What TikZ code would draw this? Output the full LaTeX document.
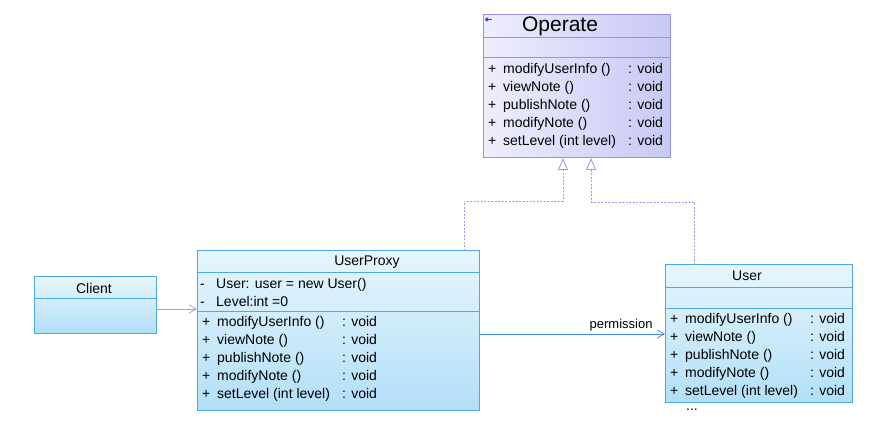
\documentclass[tikz,border=0pt]{standalone}
\usepackage{fontspec}
\setmainfont{Liberation Sans}
\usepackage{array}
\usetikzlibrary{positioning,arrows.meta,calc}

\definecolor{OpLine}{HTML}{9494EC}
\definecolor{OpLeft}{HTML}{EEEEFC}
\definecolor{OpRight}{HTML}{C8C8F6}
\definecolor{OpIcon}{HTML}{3535DC}
\definecolor{BlueLine}{HTML}{4FA8EA}
\definecolor{BlueTop}{HTML}{E6F6FD}
\definecolor{BlueBottom}{HTML}{B2DFF7}
\definecolor{LinkPurple}{HTML}{9C9CF2}
\definecolor{LinkBlue}{HTML}{3D8FE0}

\begin{document}
\begin{tikzpicture}[
    x=1pt, y=-1pt,
    % Class outlines (whole box, compartments drawn as lines)
    classbox/.style={
        rectangle,
        anchor=north west,
        inner sep=0pt,
        outer sep=0pt,
        line width=1pt
    },
    opclass/.style={classbox, draw=OpLine, left color=OpLeft, right color=OpRight},
    blueclass/.style={classbox, draw=BlueLine, top color=BlueTop, bottom color=BlueBottom},
    % Class names
    classname/.style={
        text=black,
        inner sep=0pt,
        font=\fontsize{14}{16}\selectfont
    },
    % Attribute / operation lists
    members/.style={
        anchor=north west,
        align=left,
        inner xsep=5pt,
        inner ysep=3pt,
        font=\fontsize{14}{18}\selectfont
    },
    % Compartment dividers
    divider/.style={line width=1pt},
    % Connectors
    realize/.style={
        draw=LinkPurple,
        line width=0.8pt,
        dash pattern=on 2pt off 1.5pt,
        -{Triangle[open,length=12pt,width=10pt,line width=0.9pt]}
    },
    depend/.style={
        draw=LinkPurple,
        line width=1pt,
        -{Straight Barb[length=7pt,width=8pt,line width=0.8pt]}
    },
    assoc/.style={
        draw=LinkBlue,
        line width=1pt,
        -{Straight Barb[length=7pt,width=8pt,line width=0.8pt]}
    }
]
\useasboundingbox (0,0) rectangle (885,427);

% --- Interface: Operate ---
\node[opclass, minimum width=187pt, minimum height=143pt] (operate) at (483,15) {};
\node[classname, font=\fontsize{21}{24}\selectfont] (operatename) at (560,26) {Operate};
\draw[OpIcon, line width=1pt] (487,19.5) circle (1.4pt);
\draw[OpIcon, line width=1pt] (488.4,19.5) -- (491.5,19.5);
\draw[divider, OpLine] ([yshift=-23pt]operate.north west) -- ([yshift=-23pt]operate.north east);
\draw[divider, OpLine] ([yshift=-43pt]operate.north west) -- ([yshift=-43pt]operate.north east);
\node[members] (operateops) at ([yshift=-43pt]operate.north west) {%
    \begin{tabular}{@{}p{15pt}@{}p{125pt}@{}l@{}}
    + & modifyUserInfo () & : void\\
    + & viewNote () & : void\\
    + & publishNote () & : void\\
    + & modifyNote () & : void\\
    + & setLevel (int level) & : void
    \end{tabular}};

% --- Proxy: UserProxy ---
\node[blueclass, minimum width=282pt, minimum height=159pt] (proxy) at (197,251) {};
\node[classname] (proxyname) at (367,262) {UserProxy};
\draw[divider, BlueLine] ([yshift=-22pt]proxy.north west) -- ([yshift=-22pt]proxy.north east);
\node[members, inner xsep=3pt] (proxyattrs) at ([yshift=-22pt]proxy.north west) {%
    \begin{tabular}{@{}p{16pt}@{}l@{}}
    - & User: user = new User()\\
    - & Level:int =0
    \end{tabular}};
\draw[divider, BlueLine] ([yshift=-60pt]proxy.north west) -- ([yshift=-60pt]proxy.north east);
\node[members] (proxyops) at ([yshift=-60pt]proxy.north west) {%
    \begin{tabular}{@{}p{15pt}@{}p{125pt}@{}l@{}}
    + & modifyUserInfo () & : void\\
    + & viewNote () & : void\\
    + & publishNote () & : void\\
    + & modifyNote () & : void\\
    + & setLevel (int level) & : void
    \end{tabular}};

% --- Real subject: User ---
\node[blueclass, minimum width=187pt, minimum height=137pt] (user) at (665,265) {};
\node[classname] (username) at (747,276) {User};
\draw[divider, BlueLine] ([yshift=-23pt]user.north west) -- ([yshift=-23pt]user.north east);
\draw[divider, BlueLine] ([yshift=-43pt]user.north west) -- ([yshift=-43pt]user.north east);
\node[members] (userops) at ([yshift=-43pt]user.north west) {%
    \begin{tabular}{@{}p{15pt}@{}p{125pt}@{}l@{}}
    + & modifyUserInfo () & : void\\
    + & viewNote () & : void\\
    + & publishNote () & : void\\
    + & modifyNote () & : void\\
    + & setLevel (int level) & : void
    \end{tabular}};
\node[classname] (usermore) at (692,410) {...};

% --- Client ---
\node[blueclass, minimum width=122pt, minimum height=56pt] (client) at (34,277) {};
\node[classname] (clientname) at (94,288) {Client};
\draw[divider, BlueLine] ([yshift=-21pt]client.north west) -- ([yshift=-21pt]client.north east);

% --- Relations ---
\coordinate (bendA) at (563,201);
\coordinate (bendB) at (591,202);
\draw[realize] ([xshift=-15pt]proxy.north east) |- (bendA) -- (bendA |- operate.south);
\draw[realize] ([xshift=29pt]user.north west) |- (bendB) -- (bendB |- operate.south);

\draw[depend] ([yshift=-4pt]client.east) -- ([yshift=-4pt]client.east -| proxy.west);

\draw[assoc] ([yshift=-3.5pt]proxy.east) -- ([yshift=-3.5pt]proxy.east -| user.west)
    node[pos=1, above left, inner sep=1pt, xshift=-11pt, yshift=1pt,
         font=\fontsize{13}{15}\selectfont] (permlabel) {permission};

\end{tikzpicture}
\end{document}
